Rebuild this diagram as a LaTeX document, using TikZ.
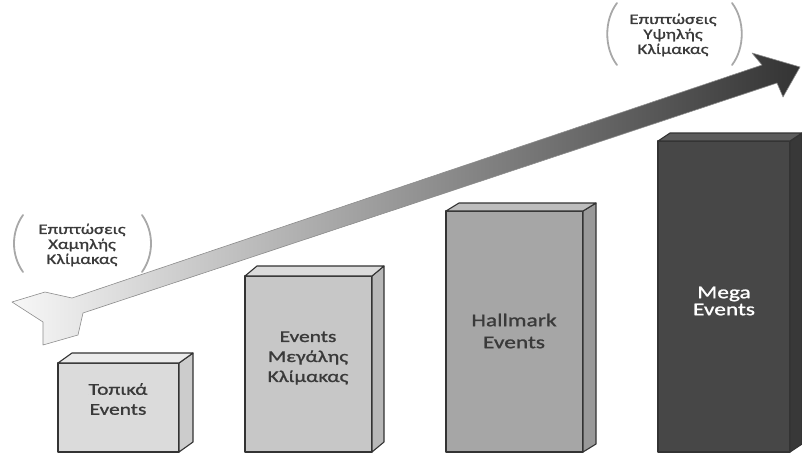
\documentclass[tikz,border=0pt]{standalone}
\usepackage{fontspec}
\setmainfont{Carlito}[FakeStretch=1.3,FakeBold=1.2]
\definecolor{inkgray}{HTML}{333333}
\definecolor{txtgray}{HTML}{3A3A3A}
\definecolor{parengray}{HTML}{A8A8A8}
% box: left, top, right, dx, dy, front, side, top face
\newcommand\eventblock[8]{%
  \filldraw[blockline,fill=#6] (#1,#2) rectangle (#3,452);
  \filldraw[blockline,fill=#7] (#3,#2) -- ++(#4,#5) -- (#3+#4,452+#5) -- (#3,452) -- cycle;
  \filldraw[blockline,fill=#8] (#1,#2) -- ++(#4,#5) -- (#3+#4,#2+#5) -- (#3,#2) -- cycle;
}
\begin{document}
\begin{tikzpicture}[x=1pt,y=-1pt,
  blockline/.style={draw=inkgray,line width=1.1pt,line join=round},
  paren/.style={draw=parengray,line width=1.8pt,line cap=round},
  smalltxt/.style={align=center,text=txtgray,font=\fontsize{14.5}{15}\selectfont},
  boxtxt/.style={align=center,text=txtgray,font=\fontsize{16.5}{20}\selectfont}]
\useasboundingbox (0,0) rectangle (802,452);
% blocks
\eventblock{58}{363}{179}{14}{-10}{black!14}{black!20}{black!8}
\eventblock{245}{276}{372}{12}{-10}{black!22}{black!28}{black!14}
\eventblock{446}{211}{583}{13}{-8}{black!35}{black!40}{black!26}
\eventblock{658}{141}{790}{12}{-8}{black!72}{black!78}{black!64}
\node[boxtxt] (local) at (118,399) {Τοπικά\\Events};
\node[boxtxt] (large) at (308,358) {Events\\Μεγάλης\\Κλίμακας};
\node[boxtxt,font=\fontsize{18}{22}\selectfont] (hall) at (514,331) {Hallmark\\Events};
\node[boxtxt,text=white,font=\fontsize{18}{17}\selectfont] (mega) at (724,301) {Mega\\Events};
% arrow
\shade[left color=black!3,right color=black!80,draw=black!45,line width=0.6pt,line join=round]
  (12,302) -- (45,292) -- (72,298) -- (762,65) -- (752,53) -- (800,67) -- (783,97)
  -- (777,83) -- (83,313) -- (78,335) -- (43,345) -- (43,322) -- cycle;
% labels in brackets
\node[smalltxt] (low) at (82,245) {Επιπτώσεις\\Χαμηλής\\Κλίμακας};
\node[smalltxt] (high) at (673,35) {Επιπτώσεις\\Υψηλής\\Κλίμακας};
\draw[paren] (23,215) .. controls (11,232) and (11,255) .. (23,272);
\draw[paren] (142,215) .. controls (154,232) and (154,255) .. (142,272);
\draw[paren] (617,3) .. controls (604,20) and (604,48) .. (617,65);
\draw[paren] (732,3) .. controls (745,20) and (745,48) .. (732,65);
\end{tikzpicture}
\end{document}
